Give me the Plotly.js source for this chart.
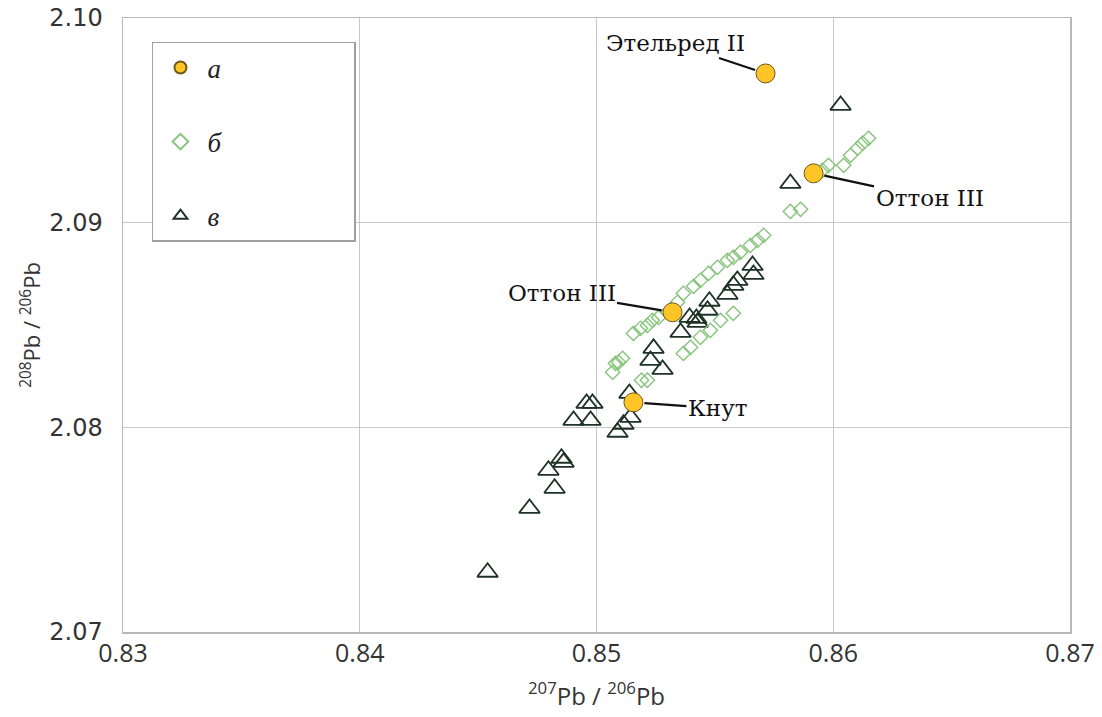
<!DOCTYPE html>
<html>
<head>
<meta charset="utf-8">
<script src="https://cdn.plot.ly/plotly-3.0.1.min.js"></script>
<style>html,body{margin:0;padding:0;background:#fff;}#chart{width:1102px;height:717px;}</style>
</head>
<body>
<div id="chart"></div>
<script>
// Series a (yellow circles)
const aX = [0.85714, 0.85917, 0.85321, 0.85156];
const aY = [2.09729, 2.09241, 2.08562, 2.08122];
const aNames = ["Этельред II", "Оттон III", "Оттон III", "Кнут"];

// Series б (green diamonds)
const bX = [0.85068, 0.85093, 0.85110, 0.85080, 0.85190, 0.85215,
            0.85156, 0.85186, 0.85215, 0.85236, 0.85262, 0.85300, 0.85342, 0.85367,
            0.85410, 0.85439, 0.85473, 0.85511, 0.85553, 0.85578, 0.85608, 0.85650,
            0.85680, 0.85706,
            0.85367, 0.85397, 0.85439, 0.85481, 0.85524, 0.85578,
            0.85819, 0.85862, 0.85954, 0.85980, 0.86044, 0.86073, 0.86103, 0.86124, 0.86149];
const bY = [2.08269, 2.08318, 2.08337, 2.08313, 2.08230, 2.08230,
            2.08459, 2.08484, 2.08498, 2.08523, 2.08537, 2.08562, 2.08611, 2.08655,
            2.08689, 2.08718, 2.08752, 2.08782, 2.08816, 2.08831, 2.08855, 2.08889,
            2.08913, 2.08938,
            2.08361, 2.08391, 2.08440, 2.08474, 2.08523, 2.08557,
            2.09055, 2.09065, 2.09256, 2.09280, 2.09280, 2.09329, 2.09364, 2.09388, 2.09412];

// Series в (dark triangles)
const cX = [0.84540, 0.84717, 0.84823, 0.84797, 0.84852, 0.84861, 0.84903, 0.84975,
            0.84958, 0.84983, 0.85089, 0.85114, 0.85144, 0.85139, 0.85241, 0.85228,
            0.85279, 0.85355, 0.85393, 0.85422, 0.85427, 0.85469, 0.85477, 0.85553,
            0.85578, 0.85595, 0.85659, 0.85663, 0.85819, 0.86031];
const cY = [2.07292, 2.07604, 2.07702, 2.07790, 2.07849, 2.07829, 2.08034, 2.08034,
            2.08117, 2.08117, 2.07976, 2.08015, 2.08049, 2.08166, 2.08386, 2.08327,
            2.08283, 2.08464, 2.08537, 2.08532, 2.08513, 2.08572, 2.08616, 2.08650,
            2.08694, 2.08718, 2.08791, 2.08747, 2.09192, 2.09573];

const xTicks = [0.83, 0.84, 0.85, 0.86, 0.87];
const yTicks = [2.07, 2.08, 2.09, 2.10];
const xTickText = ["0.83", "0.84", "0.85", "0.86", "0.87"];
const yTickText = ["2.07", "2.08", "2.09", "2.10"];
const legendNames = ["а", "б", "в"];

// Label offsets (px) for annotations
const labelAx = [-90, 116, -111, 84];
const labelAy = [-30, 25, -19, 6];

const pad = '&nbsp;'.repeat(19);

const traces = [
  {x: cX, y: cY, type: 'scatter', mode: 'markers', name: '<i>' + legendNames[2] + '</i>' + pad, legendgroup: 'c', legendrank: 3,
   marker: {symbol: 'triangle-up-open', size: 18, color: '#1e3326', line: {width: 1.8, color: '#1e3326'}}},
  {x: bX, y: bY, type: 'scatter', mode: 'markers', name: '<i>' + legendNames[1] + '</i>' + pad, legendgroup: 'b', legendrank: 2,
   marker: {symbol: 'diamond-open', size: 11, color: '#86c47c', line: {width: 1.4, color: '#86c47c'}}},
  {x: aX, y: aY, type: 'scatter', mode: 'markers', name: '<i>' + legendNames[0] + '</i>' + pad, legendgroup: 'a', legendrank: 1,
   marker: {symbol: 'circle', size: 19, color: '#ffc526', line: {width: 1, color: '#6b5a1a'}}}
];

const annotations = aNames.map((t, i) => ({
  x: aX[i], y: aY[i], xref: 'x', yref: 'y', text: t,
  showarrow: true, arrowhead: 0, arrowwidth: 2.2, arrowcolor: '#111',
  ax: labelAx[i], ay: labelAy[i], standoff: 11,
  font: {family: 'DejaVu Serif, Liberation Serif, serif', size: 23, color: '#111'}
}));

const layout = {
  width: 1102, height: 717,
  margin: {l: 123, r: 32, t: 18, b: 85},
  paper_bgcolor: '#fff', plot_bgcolor: '#fff',
  showlegend: true,
  legend: {
    x: 0.0306, y: 0.961, xanchor: 'left', yanchor: 'top',
    bgcolor: '#fff', bordercolor: '#a0a0a0', borderwidth: 1.5,
    traceorder: 'grouped', tracegroupgap: 36,
    itemwidth: 44, itemsizing: 'constant',
    font: {family: 'Liberation Serif, DejaVu Serif, serif', size: 27, color: '#222'}
  },
  xaxis: {
    range: [0.83, 0.87], tickvals: xTicks, ticktext: xTickText,
    showgrid: true, gridcolor: '#c8c8c8', gridwidth: 1.2,
    showline: true, linecolor: '#b8b8b8', linewidth: 1.5, mirror: true,
    zeroline: false, ticks: '', ticklabelstandoff: -2,
    tickfont: {family: 'Open Sans, sans-serif', size: 25, color: '#333'},
    title: {text: '<sup>207</sup>Pb / <sup>206</sup>Pb', standoff: 20,
            font: {family: 'Open Sans, sans-serif', size: 24, color: '#333'}}
  },
  yaxis: {
    range: [2.07, 2.10], tickvals: yTicks, ticktext: yTickText,
    showgrid: true, gridcolor: '#c8c8c8', gridwidth: 1.2,
    showline: true, linecolor: '#b8b8b8', linewidth: 1.5, mirror: true,
    zeroline: false, ticks: '', ticklabelstandoff: 14,
    tickfont: {family: 'DejaVu Sans, sans-serif', size: 24, color: '#333'},
    title: {text: '<sup>208</sup>Pb / <sup>206</sup>Pb', standoff: 2,
            font: {family: 'Open Sans, sans-serif', size: 22, color: '#333'}}
  },
  annotations: annotations
};

Plotly.newPlot('chart', traces, layout, {displayModeBar: false, staticPlot: true});
</script>
</body>
</html>
